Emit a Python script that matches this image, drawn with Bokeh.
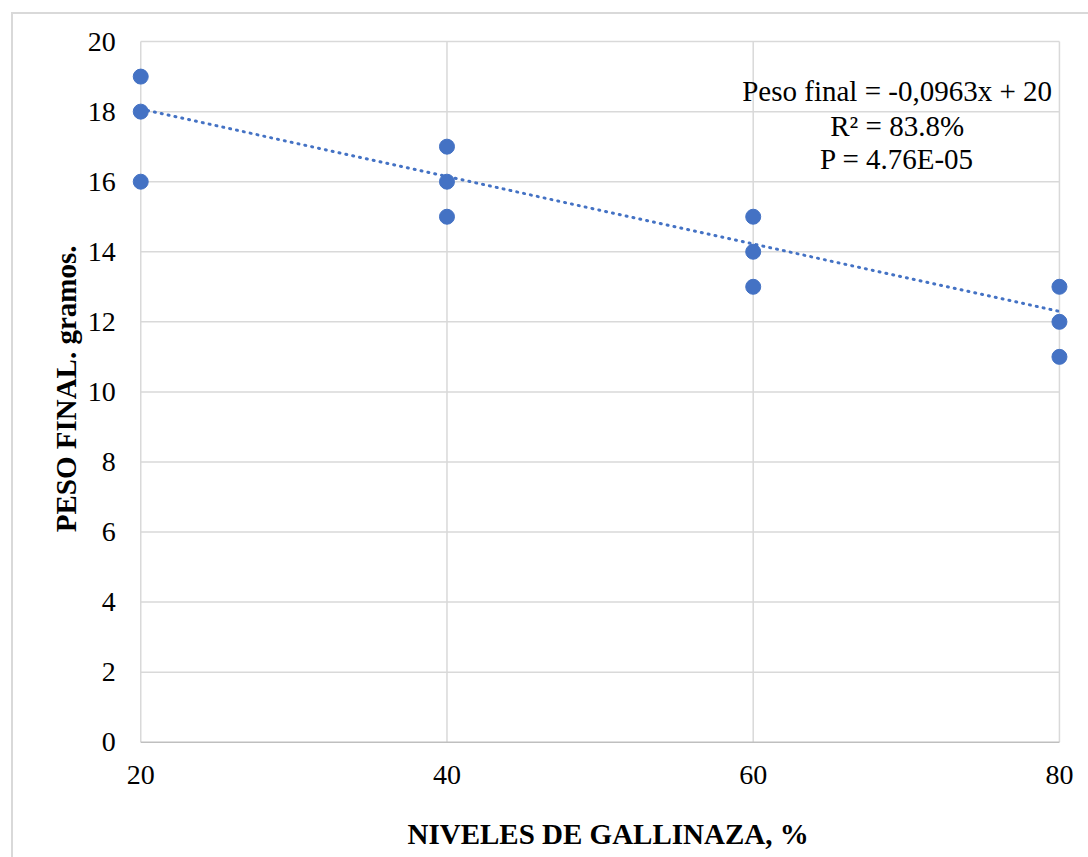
import math
from bokeh.plotting import figure
from bokeh.models import Range1d, Label
from bokeh.embed import file_html
from bokeh.resources import INLINE

# Data
niveles = [20, 20, 20, 40, 40, 40, 60, 60, 60, 80, 80, 80]
peso = [19, 18, 16, 17, 16, 15, 15, 14, 13, 13, 12, 11]
slope = -0.0963
intercept = 20.0
x_ticks = [20, 40, 60, 80]
y_ticks = [0, 2, 4, 6, 8, 10, 12, 14, 16, 18, 20]
ann_lines = ["Peso final = -0,0963x + 20", "R² = 83.8%", "P = 4.76E-05"]
x_title = "NIVELES DE GALLINAZA, %"
y_title = "PESO FINAL. gramos."

FONT = "Liberation Serif"
BLUE = "#4472C4"
GRID = "#d9d9d9"
XMIN, XMAX = x_ticks[0], x_ticks[-1]
YMIN, YMAX = y_ticks[0], y_ticks[-1]

# layout (pixels inside the figure) -> ranges so that the plotting area sits where wanted
W, H = 1075, 843
PX_XMIN, PX_XMAX = 127, 1044      # screen x of XMIN / XMAX
PX_YMAX, PX_YMIN = 27, 726        # screen y (from top) of YMAX / YMIN
sx = (PX_XMAX - PX_XMIN) / (XMAX - XMIN)
sy = (PX_YMIN - PX_YMAX) / (YMAX - YMIN)
x_start = XMIN - PX_XMIN / sx
x_end = x_start + W / sx
y_end = YMAX + PX_YMAX / sy
y_start = y_end - H / sy

p = figure(width=W, height=H, output_backend="svg", toolbar_location=None,
           x_range=Range1d(x_start, x_end), y_range=Range1d(y_start, y_end),
           x_axis_type=None, y_axis_type=None, min_border=0)
p.margin = (12, 0, 0, 11)
p.styles = {"border-top": "2px solid #d9d9d9", "border-left": "2px solid #d9d9d9",
            "box-sizing": "content-box"}
p.outline_line_color = None
p.background_fill_color = "white"
p.border_fill_color = "white"

# grid lines
hy = [t for t in y_ticks if t > YMIN]
p.segment(x0=[XMIN] * len(hy), x1=[XMAX] * len(hy), y0=hy, y1=hy,
          line_color=GRID, line_width=1.5)
p.segment(x0=x_ticks, x1=x_ticks, y0=[YMIN] * len(x_ticks), y1=[YMAX] * len(x_ticks),
          line_color=GRID, line_width=1.5)
# bottom axis line
p.segment(x0=[XMIN], x1=[XMAX], y0=[YMIN], y1=[YMIN], line_color="#bfbfbf", line_width=1.5)

# tick labels
for t in x_ticks:
    p.add_layout(Label(x=t, y=YMIN, y_offset=-33, text=str(t),
                       text_align="center", text_baseline="middle",
                       text_font=FONT, text_font_size="28px", text_color="black"))
for t in y_ticks:
    p.add_layout(Label(x=XMIN, y=t, x_offset=-25, text=str(t),
                       text_align="right", text_baseline="middle",
                       text_font=FONT, text_font_size="28px", text_color="black"))

# axis titles
p.add_layout(Label(x=(XMIN + XMAX) / 2, y=YMIN, x_offset=8, y_offset=-92, text=x_title,
                   text_align="center", text_baseline="middle",
                   text_font=FONT, text_font_style="bold", text_font_size="29px",
                   text_color="black"))
p.add_layout(Label(x=XMIN, y=(YMIN + YMAX) / 2, x_offset=-75, y_offset=3, text=y_title,
                   angle=math.pi / 2, text_align="center", text_baseline="middle",
                   text_font=FONT, text_font_style="bold", text_font_size="29px",
                   text_color="black"))

# trend line
xs = [XMIN, XMAX]
ys = [intercept + slope * v for v in xs]
p.line(xs, ys, line_color=BLUE, line_width=3, line_dash="1 6", line_cap="round")

p.scatter(niveles, peso, size=15, fill_color=BLUE, line_color=BLUE)

ann_y = [18.6, 17.6, 16.65]
for t, yy in zip(ann_lines, ann_y):
    p.add_layout(Label(x=69.4, y=yy, text=t, text_align="center", text_baseline="middle",
                       text_font=FONT, text_font_size="29px", text_color="black"))

open("out.html", "w").write(file_html(p, INLINE))
